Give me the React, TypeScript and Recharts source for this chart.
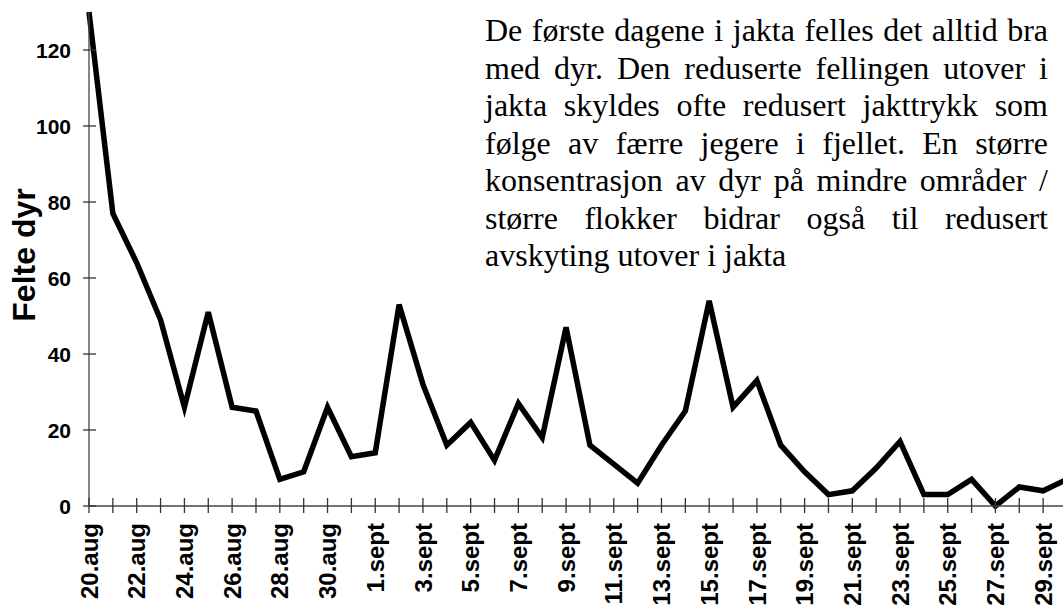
import React from "react";
import { LineChart, Line, XAxis, YAxis } from "recharts";

// felte dyr per dag, 20. aug - 30. sept
const dates = [
  "20.aug", "21.aug", "22.aug", "23.aug", "24.aug", "25.aug", "26.aug", "27.aug",
  "28.aug", "29.aug", "30.aug", "31.aug",
  "1.sept", "2.sept", "3.sept", "4.sept", "5.sept", "6.sept", "7.sept", "8.sept",
  "9.sept", "10.sept", "11.sept", "12.sept", "13.sept", "14.sept", "15.sept",
  "16.sept", "17.sept", "18.sept", "19.sept", "20.sept", "21.sept", "22.sept",
  "23.sept", "24.sept", "25.sept", "26.sept", "27.sept", "28.sept", "29.sept",
  "30.sept",
];

const felte = [
  130, 77, 64, 49, 26, 51, 26, 25, 7, 9, 26, 13,
  14, 53, 32, 16, 22, 12, 27, 18, 47, 16, 11, 6, 16, 25, 54, 26, 33, 16,
  9, 3, 4, 10, 17, 3, 3, 7, 0, 5, 4, 7,
];

const yTicks = [0, 20, 40, 60, 80, 100, 120];

const note =
  "De første dagene i jakta felles det alltid bra med dyr. Den reduserte fellingen utover i jakta skyldes ofte redusert jakttrykk som følge av færre jegere i fjellet. En større konsentrasjon av dyr på mindre områder / større flokker bidrar også til redusert avskyting utover i jakta";

const data = dates.map((d, i) => ({ dato: d, felte: felte[i] }));

const sans = "'Liberation Sans', Arial, sans-serif";

// ticks cross the axis line, labels only every other day
const XTick = (props: any) => {
  const { x, y, payload, index } = props;
  return (
    <g>
      <line x1={x} y1={y - 8} x2={x} y2={y + 7} stroke="#333" strokeWidth={1.3} />
      {index % 2 === 0 && (
        <text
          x={x}
          y={y + 17}
          dy="0.36em"
          transform={`rotate(-90, ${x}, ${y + 17})`}
          textAnchor="end"
          fontFamily={sans}
          fontWeight="bold"
          fontSize={24}
          fill="#000"
        >
          {payload.value}
        </text>
      )}
    </g>
  );
};

const YTick = (props: any) => {
  const { x, y, payload } = props;
  return (
    <g>
      <line x1={x - 6} y1={y} x2={x + 7} y2={y} stroke="#333" strokeWidth={1.3} />
      <text
        x={x - 18}
        y={y}
        dy="0.36em"
        textAnchor="end"
        fontFamily={sans}
        fontWeight="bold"
        fontSize={21}
        fill="#000"
      >
        {payload.value}
      </text>
    </g>
  );
};

const yLabel = () => (
  <text
    x={24}
    y={255}
    transform="rotate(-90, 24, 255)"
    textAnchor="middle"
    dominantBaseline="central"
    fontFamily={sans}
    fontWeight="bold"
    fontSize={32}
    fill="#000"
  >
    Felte dyr
  </text>
);

export default function App() {
  return (
    <div
      style={{
        position: "absolute",
        left: 0,
        top: 0,
        width: 1063,
        height: 612,
        overflow: "hidden",
        background: "#fff",
      }}
    >
      <LineChart
        width={1080}
        height={612}
        data={data}
        margin={{ top: 12, right: 13, bottom: 0, left: 0 }}
      >
        <XAxis
          dataKey="dato"
          interval={0}
          height={106}
          tickSize={0}
          tickMargin={0}
          tickLine={false}
          tick={<XTick />}
          axisLine={{ stroke: "#444", strokeWidth: 1.3 }}
        />
        <YAxis
          width={89}
          domain={[0, 130]}
          ticks={yTicks}
          tickSize={0}
          tickMargin={0}
          tickLine={false}
          tick={<YTick />}
          axisLine={{ stroke: "#444", strokeWidth: 1.3 }}
          label={{ content: yLabel }}
        />
        <Line
          type="linear"
          dataKey="felte"
          stroke="#000"
          strokeWidth={5.5}
          dot={false}
          isAnimationActive={false}
        />
      </LineChart>
      <div
        style={{
          position: "absolute",
          left: 485,
          top: 12,
          width: 563,
          fontFamily: "'Liberation Serif', 'Times New Roman', serif",
          fontSize: 32,
          lineHeight: "37.5px",
          textAlign: "justify",
          color: "#000",
        }}
      >
        {note}
      </div>
    </div>
  );
}
